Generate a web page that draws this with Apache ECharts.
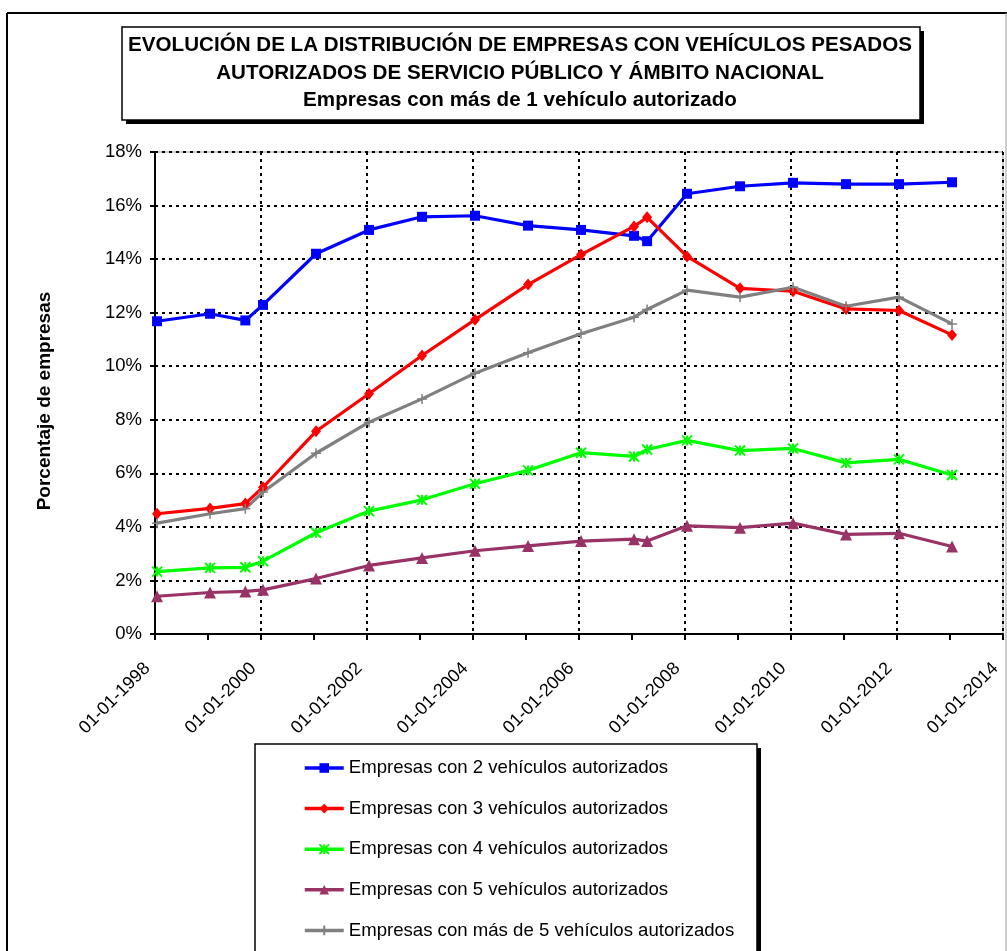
<!DOCTYPE html>
<html>
<head>
<meta charset="utf-8">
<title>Evolución distribución empresas</title>
<script src="https://cdn.jsdelivr.net/npm/echarts@6/dist/echarts.min.js"></script>
<style>
  html, body { margin: 0; padding: 0; background: #fff; }
  #chart { width: 1007px; height: 951px; }
</style>
</head>
<body>
<div id="chart"></div>
<script>
// fechas de cada dato
var fechas = [
  '1998-01-15', '1999-01-15', '1999-09-15', '2000-01-15', '2001-01-15',
  '2002-01-15', '2003-01-15', '2004-01-15', '2005-01-15', '2006-01-15',
  '2007-01-15', '2007-04-15', '2008-01-15', '2009-01-15', '2010-01-15',
  '2011-01-15', '2012-01-15', '2013-01-15'
];

// porcentaje de empresas (%)
var con2 = [11.68, 11.96, 11.71, 12.29, 14.20, 15.09, 15.58, 15.62, 15.25, 15.09, 14.87, 14.67, 16.44, 16.72, 16.85, 16.80, 16.80, 16.87];
var con3 = [4.49, 4.69, 4.87, 5.48, 7.57, 8.97, 10.40, 11.74, 13.05, 14.17, 15.22, 15.56, 14.10, 12.91, 12.80, 12.14, 12.08, 11.17];
var con4 = [2.33, 2.47, 2.49, 2.72, 3.78, 4.59, 5.01, 5.61, 6.11, 6.77, 6.63, 6.89, 7.23, 6.85, 6.93, 6.39, 6.52, 5.94];
var con5 = [1.41, 1.55, 1.59, 1.65, 2.07, 2.56, 2.84, 3.11, 3.29, 3.47, 3.54, 3.47, 4.04, 3.97, 4.14, 3.72, 3.76, 3.27];
var masDe5 = [4.14, 4.49, 4.68, 5.30, 6.75, 7.91, 8.78, 9.74, 10.50, 11.21, 11.83, 12.12, 12.84, 12.58, 12.95, 12.24, 12.58, 11.58];

var nombres = [
  'Empresas con 2 vehículos autorizados',
  'Empresas con 3 vehículos autorizados',
  'Empresas con 4 vehículos autorizados',
  'Empresas con 5 vehículos autorizados',
  'Empresas con más de 5 vehículos autorizados'
];

var titulo = [
  'EVOLUCIÓN DE LA DISTRIBUCIÓN DE EMPRESAS CON VEHÍCULOS PESADOS',
  'AUTORIZADOS DE SERVICIO PÚBLICO Y ÁMBITO NACIONAL',
  'Empresas con más de 1 vehículo autorizado'
];

var FONT = '"Liberation Sans", Arial, sans-serif';

// fecha -> año decimal (eje lineal en días, como el original)
function anioDecimal(f) {
  var p = f.split('-');
  var y = +p[0];
  var ini = Date.UTC(y, 0, 1);
  var fin = Date.UTC(y + 1, 0, 1);
  return y + (Date.UTC(y, +p[1] - 1, +p[2]) - ini) / (fin - ini);
}

function puntos(valores) {
  return valores.map(function (v, i) {
    return [anioDecimal(fechas[i]), v];
  });
}

function serie(nombre, valores, color, simbolo, tam, extra) {
  var s = {
    name: nombre,
    type: 'line',
    data: puntos(valores),
    symbol: simbolo,
    symbolSize: tam,
    showSymbol: true,
    lineStyle: { color: color, width: 3.2 },
    itemStyle: { color: color, borderColor: color, borderWidth: 0 },
    emphasis: { disabled: true },
    animation: false
  };
  if (extra) s.itemStyle = extra;
  return s;
}

// caja con sombra negra (sombra = rect desplazado)
function caja(x, y, w, h) {
  return [
    { type: 'rect', z: 1, shape: { x: x + 4, y: y + 4, width: w, height: h }, style: { fill: '#000' } },
    { type: 'rect', z: 1, shape: { x: x, y: y, width: w, height: h }, style: { fill: '#fff', stroke: '#000', lineWidth: 1.5 } }
  ];
}

var myChart = echarts.init(document.getElementById('chart'));

var graficos = [
  // marco exterior
  { type: 'line', shape: { x1: 7, y1: 13, x2: 1007, y2: 13 }, style: { stroke: '#000', lineWidth: 2 } },
  { type: 'line', shape: { x1: 7, y1: 13, x2: 7, y2: 951 }, style: { stroke: '#000', lineWidth: 2 } },
  { type: 'line', shape: { x1: 1006, y1: 13, x2: 1006, y2: 951 }, style: { stroke: '#999', lineWidth: 1 } }
];
graficos = graficos.concat(caja(122, 27, 798, 93)); // título
graficos = graficos.concat(caja(255, 744, 502, 260)); // leyenda
// título del eje Y
graficos.push({
  type: 'text', z: 2, x: 45, y: 401, rotation: Math.PI / 2,
  style: { text: 'Porcentaje de empresas', font: 'bold 19px ' + FONT, fill: '#000', align: 'center', verticalAlign: 'middle' }
});
var ys = [45, 73, 100];
titulo.forEach(function (t, i) {
  graficos.push({
    type: 'text', z: 2, x: 520, y: ys[i],
    style: { text: t, font: 'bold 20.6px ' + FONT, fill: '#000', align: 'center', verticalAlign: 'middle' }
  });
});

myChart.setOption({
  backgroundColor: '#fff',
  animation: false,
  graphic: graficos,
  grid: {
    left: 155, top: 152, width: 848, height: 482,
    outerBoundsMode: 'none',
    containLabel: false,
    show: true, borderColor: '#999', borderWidth: 1, backgroundColor: 'transparent'
  },
  legend: {
    orient: 'vertical',
    left: 298, top: 753,
    itemWidth: 39, itemHeight: 12, itemGap: 20.6,
    z: 5,
    lineStyle: { width: 3.5 },
    textStyle: { color: '#000', fontFamily: FONT, fontSize: 18.6, lineHeight: 20 },
    data: nombres
  },
  xAxis: {
    type: 'value',
    min: 1998, max: 2014, interval: 2,
    axisLine: { show: true, onZero: false, lineStyle: { color: '#000', width: 2 } },
    axisTick: { show: true, length: 6, lineStyle: { color: '#000', width: 2 } },
    minorTick: { show: true, splitNumber: 2, length: 6, lineStyle: { color: '#000', width: 2 } },
    splitLine: { show: true, lineStyle: { color: '#000', width: 2, type: [3, 4] } },
    axisLabel: {
      rotate: 45, margin: 24, padding: [0, 11, 0, 0],
      color: '#000', fontFamily: FONT, fontSize: 18,
      formatter: function (v) { return '01-01-' + v; }
    }
  },
  yAxis: {
    type: 'value',
    min: 0, max: 18, interval: 2,
    axisLine: { show: true, lineStyle: { color: '#000', width: 2 } },
    axisTick: { show: true, length: 5, lineStyle: { color: '#000', width: 2 } },
    splitLine: { show: true, lineStyle: { color: '#000', width: 2, type: [3, 4] } },
    axisLabel: { margin: 13, color: '#000', fontFamily: FONT, fontSize: 18.5, formatter: '{value}%' }
  },
  series: [
    serie(nombres[0], con2, '#0000ff', 'rect', 10),
    serie(nombres[1], con3, '#ff0000', 'diamond', [10, 12]),
    serie(nombres[2], con4, '#00ff00', 'path://M0,0L10,10M10,0L0,10M5,0L5,10', 10,
      { color: '#00ff00', borderColor: '#00ff00', borderWidth: 2 }),
    serie(nombres[3], con5, '#993366', 'triangle', 12),
    serie(nombres[4], masDe5, '#808080', 'path://M5,0L5,10M0,5L10,5', 10,
      { color: '#808080', borderColor: '#808080', borderWidth: 1.5 })
  ]
});
</script>
</body>
</html>
